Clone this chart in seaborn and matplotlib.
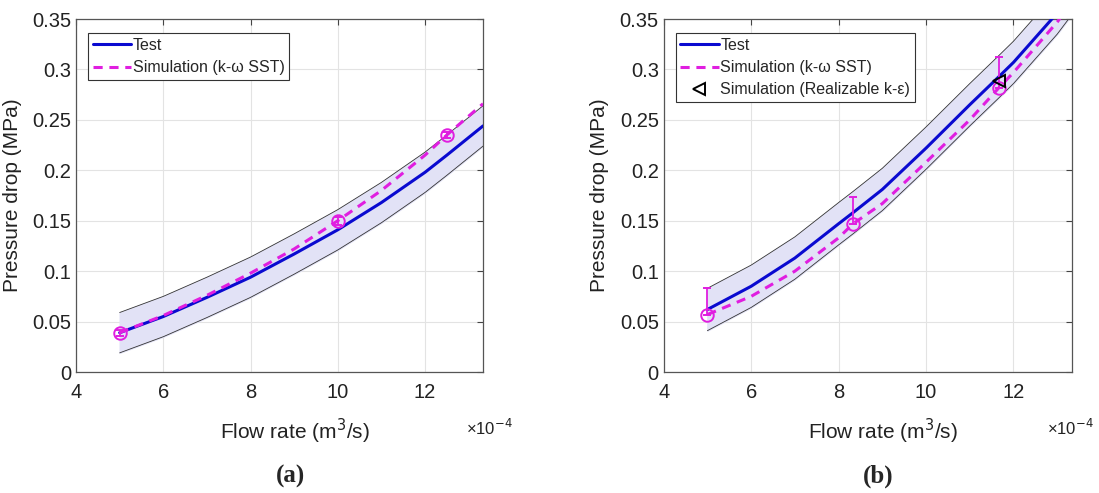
import numpy as np
import pandas as pd
import seaborn as sns
import matplotlib.pyplot as plt

# flow rate in units of 1e-4 m3/s, pressure drop in MPa

# panel (a)
flow_a = [5, 6, 7, 8, 9, 10, 11, 12, 12.5, 13.33]
test_a = [0.039, 0.055, 0.074, 0.094, 0.117, 0.141, 0.168, 0.198, 0.215, 0.244]
sim_a = [0.039, 0.056, 0.076, 0.098, 0.122, 0.150, 0.180, 0.215, 0.235, 0.266]
band_a = 0.02
pts_a_x = [5, 10, 12.5]
pts_a_y = [0.039, 0.150, 0.235]
pts_a_err = [0.003, 0.004, 0.003]

# panel (b)
flow_b = [5, 6, 7, 8, 8.33, 9, 10, 11, 11.67, 12, 13, 13.33]
test_b = [0.062, 0.085, 0.113, 0.147, 0.158, 0.181, 0.222, 0.265, 0.293, 0.307, 0.356, 0.375]
sim_b = [0.057, 0.075, 0.100, 0.133, 0.147, 0.167, 0.208, 0.250, 0.282, 0.297, 0.347, 0.366]
band_b = 0.021
pts_b_x = [5, 8.33, 11.67]
pts_b_y = [0.057, 0.147, 0.282]
pts_b_up = [0.026, 0.027, 0.030]
rke_x = [11.67]
rke_y = [0.289]

sns.set_style("white")
plt.rcParams['font.family'] = ['Liberation Sans', 'DejaVu Sans']

blue = '#0a0ad0'
mag = '#e01ee0'

fig = plt.figure(figsize=(10.99, 4.93), dpi=100)
ax1 = fig.add_axes([0.0692, 0.2454, 0.3703, 0.716])
ax2 = fig.add_axes([0.6039, 0.2454, 0.3712, 0.716])


def draw(ax, flow, test, sim, band, px, py, perr, label, offx):
    t = np.array(test)
    ax.fill_between(flow, t - band, t + band, color='#e2e2f6', zorder=1)
    ax.plot(flow, t + band, color='#333333', lw=0.6, zorder=2)
    ax.plot(flow, t - band, color='#333333', lw=0.6, zorder=2)
    sns.lineplot(x=flow, y=test, ax=ax, color=blue, lw=2.2, label='Test', zorder=4)
    sns.lineplot(x=flow, y=sim, ax=ax, color=mag, lw=2.2, dashes=(3, 2.2),
                 label='Simulation (k-ω SST)', zorder=5)
    ax.errorbar(px, py, yerr=perr, fmt='o', mfc='none', mec=mag, ms=9, mew=1.4,
                ecolor=mag, elinewidth=1.3, capsize=3, capthick=1.3, zorder=6)
    ax.set_xlim(4, 13.33)
    ax.set_ylim(0, 0.35)
    ax.set_xticks([4, 6, 8, 10, 12])
    ax.set_yticks([0, 0.05, 0.1, 0.15, 0.2, 0.25, 0.3, 0.35])
    ax.set_yticklabels(['0', '0.05', '0.1', '0.15', '0.2', '0.25', '0.3', '0.35'])
    ax.grid(True, color='#e3e3e3', lw=0.8)
    ax.set_axisbelow(True)
    ax.tick_params(direction='in', labelsize=14.5, length=4, top=True, right=True,
                   color='#444444', labelcolor='#222222')
    ax.tick_params(axis='x', pad=8)
    for s in ax.spines.values():
        s.set_color('#555555')
        s.set_linewidth(0.9)
    ax.set_xlabel('Flow rate (m$^3$/s)', fontsize=15, color='#222222')
    ax.xaxis.set_label_coords(0.538, -0.128)
    ax.set_ylabel('Pressure drop (MPa)', fontsize=15, color='#222222')
    ax.yaxis.set_label_coords(-0.133, 0.5)
    ax.text(offx, -0.158, '×10$^{-4}$', transform=ax.transAxes, fontsize=12,
            color='#222222', ha='center', va='center')
    ax.text(0.526, -0.295, label, transform=ax.transAxes, fontsize=18,
            fontweight='bold', family='Liberation Serif', ha='center', va='center')


draw(ax1, flow_a, test_a, sim_a, band_a, pts_a_x, pts_a_y, pts_a_err, '(a)', 1.015)
draw(ax2, flow_b, test_b, sim_b, band_b, pts_b_x, pts_b_y,
     [np.zeros(len(pts_b_up)), pts_b_up], '(b)', 0.998)
ax2.plot(rke_x, rke_y, marker='<', ls='none', mfc='none', mec='black', ms=9, mew=1.4,
         label='Simulation (Realizable k-ε)', zorder=7)

for ax in (ax1, ax2):
    h, l = ax.get_legend_handles_labels()
    keep = [i for i, s in enumerate(l) if not s.startswith('_')]
    leg = ax.legend([h[i] for i in keep], [l[i] for i in keep], loc='upper left',
                    bbox_to_anchor=(0.029, 0.96), fontsize=11.5, frameon=True,
                    fancybox=False, edgecolor='#333333', framealpha=1,
                    handlelength=2.4, handletextpad=0.1, borderpad=0.3,
                    labelspacing=0.45, borderaxespad=0)
    leg.get_frame().set_linewidth(0.8)

fig.savefig('out.png', dpi=100)
